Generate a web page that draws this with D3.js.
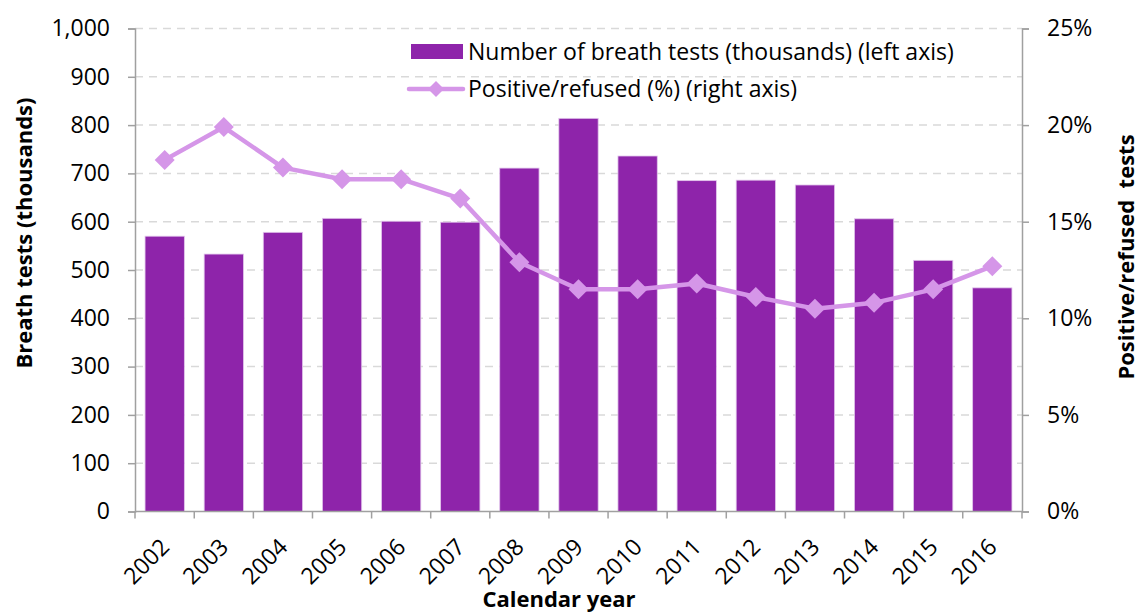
<!DOCTYPE html>
<html><head><meta charset="utf-8">
<script src="https://cdn.jsdelivr.net/npm/d3@7"></script>
<style>body{margin:0;background:#fff}svg{display:block}text{font-family:"Open Sans",sans-serif;fill:#000}</style>
</head><body><svg id="c" width="1141" height="614"></svg>
<script>
const years = ["2002","2003","2004","2005","2006","2007","2008","2009","2010","2011","2012","2013","2014","2015","2016"];
const breathTests = [570,533,578,607,601,599,711,814,736,685,686,676,606,520,463];
const positivePct = [18.2,19.9,17.8,17.2,17.2,16.2,12.9,11.5,11.5,11.8,11.1,10.5,10.8,11.5,12.7];
const leftTicks = [0,100,200,300,400,500,600,700,800,900,1000];
const rightTicks = [0,5,10,15,20,25];
const legendLabels = ["Number of breath tests (thousands) (left axis)","Positive/refused (%) (right axis)"];

const svg = d3.select("#c");
const L = 135, R = 1022, T = 28.5, B = 511.5;
const barColor = "#8e24aa", lineColor = "#d596e8", axisColor = "#a0a0a0";
const fs = 23, tfs = 22;

const x = d3.scaleBand().domain(years).range([L, R]).paddingInner(0.335).paddingOuter(0.17);
const yL = d3.scaleLinear().domain([0,1000]).range([B, T]);
const yR = d3.scaleLinear().domain([0,25]).range([B, T]);

// gridlines
svg.append("g").selectAll("line").data(leftTicks.filter(d=>d>0)).join("line")
  .attr("x1", L).attr("x2", R).attr("y1", d=>yL(d)).attr("y2", d=>yL(d))
  .attr("stroke", "#d9d9d9").attr("stroke-width", 1.5).attr("stroke-dasharray", "8,6");

// bars
svg.append("g").selectAll("rect").data(years).join("rect")
  .attr("x", d=>x(d)).attr("width", x.bandwidth())
  .attr("y", (d,i)=>yL(breathTests[i])).attr("height", (d,i)=>B - yL(breathTests[i]))
  .attr("fill", barColor).attr("stroke", "#e2c6ec").attr("stroke-width", 0.8);

// left axis
const gL = svg.append("g").attr("transform", `translate(${L},0)`)
  .call(d3.axisLeft(yL).tickValues(leftTicks).tickFormat(d3.format(",")).tickSize(7).tickPadding(18));
// right axis
const gR = svg.append("g").attr("transform", `translate(${R},0)`)
  .call(d3.axisRight(yR).tickValues(rightTicks).tickFormat(d=>d+"%").tickSize(7).tickPadding(18));
// bottom axis
const gB = svg.append("g").attr("transform", `translate(0,${B})`)
  .call(d3.axisBottom(x).tickSize(0).tickPadding(0));
gB.selectAll(".tick text").remove();
const bounds = years.map(d=>x(d) - x.step()*x.paddingInner()/2).concat([R]);
bounds[0] = L;
gB.selectAll("line.bt").data(bounds).join("line").attr("class","bt")
  .attr("x1", d=>d).attr("x2", d=>d).attr("y1", 0).attr("y2", 7).attr("stroke", axisColor).attr("stroke-width", 1.5);
gB.selectAll("text.yl").data(years).join("text").attr("class","yl")
  .attr("transform", d=>`translate(${x(d)+x.bandwidth()/2+6},${37}) rotate(-45)`)
  .attr("text-anchor", "end").attr("font-size", fs).text(d=>d);

[gL,gR,gB].forEach(g=>{
  g.select(".domain").attr("stroke", axisColor).attr("stroke-width", 1.5);
  g.selectAll(".tick line").attr("stroke", axisColor).attr("stroke-width", 1.5);
  g.selectAll(".tick text").attr("font-size", fs).attr("fill", "#000").style("font-family","Open Sans");
});
gB.select(".domain").attr("d", `M${L},0H${R}`);

// line
const line = d3.line().x((d,i)=>x(years[i])+x.bandwidth()/2).y(d=>yR(d));
svg.append("path").datum(positivePct).attr("d", line)
  .attr("fill","none").attr("stroke", lineColor).attr("stroke-width", 4.5).attr("stroke-linejoin","round");
const dia = "M0,-10L10,0L0,10L-10,0Z";
svg.append("g").selectAll("path").data(positivePct).join("path")
  .attr("transform", (d,i)=>`translate(${x(years[i])+x.bandwidth()/2},${yR(d)})`)
  .attr("d", dia).attr("fill", lineColor);

// axis titles
svg.append("text").attr("transform", `translate(32,233) rotate(-90)`).attr("text-anchor","middle")
  .attr("font-size", tfs).attr("font-weight","bold").text("Breath tests (thousands)");
svg.append("text").attr("transform", `translate(1134,257) rotate(-90)`).attr("text-anchor","middle")
  .attr("font-size", tfs).attr("font-weight","bold").attr("xml:space","preserve").style("white-space","pre").text("Positive/refused  tests");
svg.append("text").attr("x", 559).attr("y", 607).attr("text-anchor","middle")
  .attr("font-size", tfs).attr("font-weight","bold").text("Calendar year");

// legend
const lg = svg.append("g");
lg.append("rect").attr("x", 411).attr("y", 44).attr("width", 52).attr("height", 15).attr("fill", barColor);
lg.append("text").attr("x", 468).attr("y", 60).attr("font-size", fs).text(legendLabels[0]);
lg.append("line").attr("x1", 409).attr("x2", 463).attr("y1", 89).attr("y2", 89).attr("stroke", lineColor).attr("stroke-width", 4.5).attr("stroke-linecap","round");
lg.append("path").attr("transform","translate(436,89)").attr("d", "M0,-8L8,0L0,8L-8,0Z").attr("fill", lineColor);
lg.append("text").attr("x", 468).attr("y", 97).attr("font-size", fs).text(legendLabels[1]);
</script></body></html>
